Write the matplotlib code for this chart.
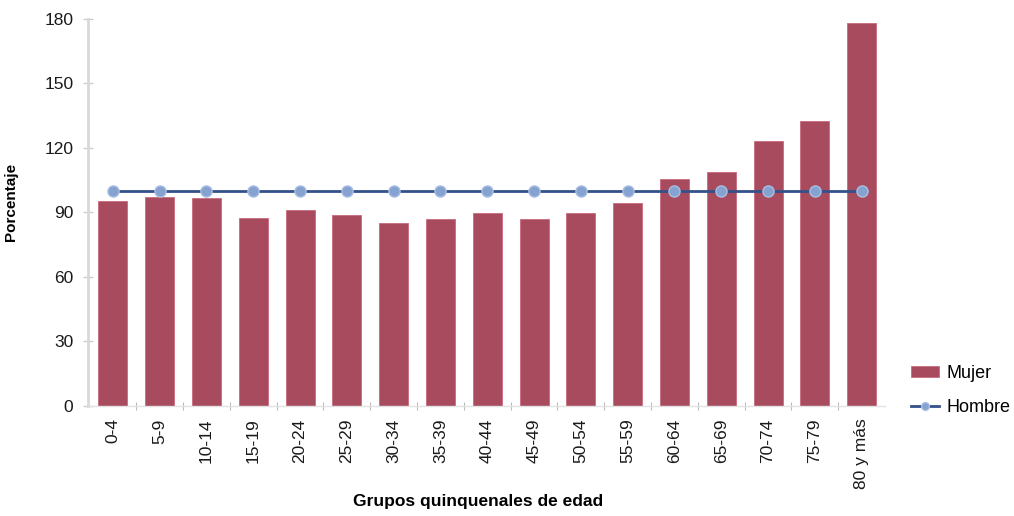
import matplotlib
matplotlib.use("Agg")
import matplotlib.pyplot as plt
import numpy as np

plt.rcParams['font.family'] = ['Liberation Sans', 'DejaVu Sans']

categories = ["0-4", "5-9", "10-14", "15-19", "20-24", "25-29", "30-34", "35-39",
              "40-44", "45-49", "50-54", "55-59", "60-64", "65-69", "70-74", "75-79", "80 y más"]
mujer = [95.3, 97.3, 96.8, 87.5, 91.0, 88.8, 85.0, 86.8, 89.6, 87.1, 89.9, 94.6,
         105.4, 109.0, 123.2, 132.5, 178.0]
hombre = [100] * 17
yticks = [0, 30, 60, 90, 120, 150, 180]

fig = plt.figure(figsize=(10.14, 5.16), dpi=100)
ax = fig.add_axes([0.0868, 0.2132, 0.786, 0.75])

x = np.arange(len(categories))
bars = ax.bar(x, mujer, width=0.62, color="#A84B5E", edgecolor="#C86A7C", linewidth=0.6,
              label="Mujer", zorder=2)
line, = ax.plot(x, hombre, color="#34518A", linewidth=2.0, marker="o", markersize=8,
                markerfacecolor="#86A2D0", markeredgecolor="#A9BFE2", markeredgewidth=1.0,
                label="Hombre", zorder=3)

ax.set_xlim(-0.53, 16.5)
ax.set_ylim(0, 180)
ax.set_yticks(yticks)
ax.set_xticks(x)
ax.set_xticklabels(categories, rotation=90, fontsize=12.5, color="#1a1a1a")
ax.tick_params(axis='x', which='major', length=0, pad=9)
ax.set_xticks(np.arange(0.5, 16.5, 1), minor=True)
ax.tick_params(axis='x', which='minor', length=6, direction='inout', color="#BBBBBB", width=0.8)
ax.tick_params(axis='y', length=7, direction='inout', color="#CCCCCC", width=1.0,
               labelsize=12.5, labelcolor="#1a1a1a", pad=7)

for s in ["top", "right"]:
    ax.spines[s].set_visible(False)
ax.spines["left"].set_color("#DDD6D6")
ax.spines["left"].set_linewidth(2.0)
ax.spines["bottom"].set_color("#E2E2E2")
ax.spines["bottom"].set_linewidth(1.0)

ax.set_ylabel("Porcentaje", fontsize=11, fontweight="bold")
ax.yaxis.set_label_coords(-0.088, 0.527)
ax.set_xlabel("Grupos quinquenales de edad", fontsize=12.5, fontweight="bold")
ax.xaxis.set_label_coords(0.49, -0.228)

leg = fig.legend(handles=[bars, line], labels=["Mujer", "Hombre"],
                 loc="upper left", bbox_to_anchor=(911 / 1014, 1 - 365 / 516),
                 bbox_transform=fig.transFigure, frameon=False, borderpad=0,
                 borderaxespad=0, fontsize=13, handlelength=1.55, handleheight=0.5,
                 handletextpad=0.4, labelspacing=0.95, markerscale=0.7)

fig.savefig("out.png", dpi=100)
